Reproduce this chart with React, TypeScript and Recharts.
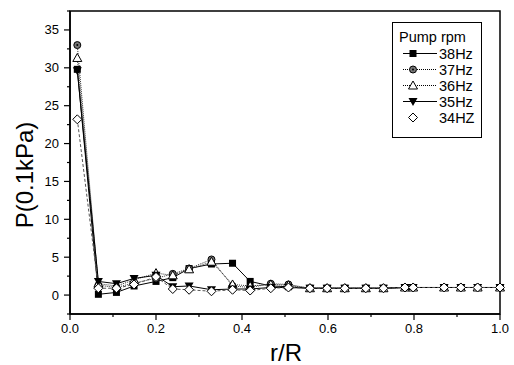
import { LineChart, Line, XAxis, YAxis, ReferenceArea, Label } from 'recharts';

const rR = [0.017, 0.066, 0.108, 0.149, 0.2, 0.239, 0.277, 0.329, 0.378, 0.419, 0.467, 0.508, 0.558, 0.598, 0.639, 0.688, 0.729, 0.779, 0.798, 0.87, 0.909, 0.948, 1.0];
const hz38 = [29.8, 0.1, 0.35, 1.2, 1.8, 2.3, 3.5, 4.1, 4.2, 1.8, 1.2, 1.1, 0.9, 0.9, 0.9, 0.9, 0.9, 1.0, 1.0, 1.0, 1.0, 1.0, 1.0];
const hz37 = [33.0, 1.3, 1.0, 1.6, 2.2, 2.8, 3.5, 4.7, 1.2, 1.0, 1.5, 1.4, 0.9, 0.9, 0.9, 0.9, 0.9, 1.0, 1.0, 1.0, 1.0, 1.0, 1.0];
const hz36 = [31.3, 1.5, 1.2, 2.0, 2.9, 2.6, 3.4, 4.4, 1.4, 1.2, 1.4, 1.3, 0.9, 0.9, 0.9, 0.9, 0.9, 1.0, 1.0, 1.0, 1.0, 1.0, 1.0];
const hz35 = [29.6, 1.8, 1.5, 2.2, 2.6, 1.1, 1.2, 0.7, 0.8, 0.8, 1.0, 1.0, 0.9, 0.9, 0.9, 0.9, 0.9, 1.0, 1.0, 1.0, 1.0, 1.0, 1.0];
const hz34 = [23.2, 0.9, 0.9, 1.4, 2.4, 0.8, 0.7, 0.5, 0.7, 0.6, 0.9, 1.0, 0.9, 0.9, 0.9, 0.9, 0.9, 1.0, 1.0, 1.0, 1.0, 1.0, 1.0];

const xTicks = [0, 0.1, 0.2, 0.3, 0.4, 0.5, 0.6, 0.7, 0.8, 0.9, 1.0];
const yTicks = [-2.5, 0, 2.5, 5, 7.5, 10, 12.5, 15, 17.5, 20, 22.5, 25, 27.5, 30, 32.5, 35, 37.5];

const data = rR.map((x, i) => ({ x, a: hz38[i], b: hz37[i], c: hz36[i], d: hz35[i], e: hz34[i] }));

const FONT = 'Liberation Sans, Arial, sans-serif';

type Shape = 'square' | 'circle' | 'triangle' | 'down' | 'diamond';

function Marker({ cx, cy, shape }: { cx: number; cy: number; shape: Shape }) {
  if (shape === 'square') return <rect x={cx - 3.5} y={cy - 3.5} width={7} height={7} fill="#000" />;
  if (shape === 'circle')
    return (
      <g>
        <circle cx={cx} cy={cy} r={3.5} fill="#777" stroke="#000" strokeWidth={1} />
        <circle cx={cx} cy={cy} r={1} fill="#000" />
      </g>
    );
  if (shape === 'triangle')
    return <polygon points={`${cx},${cy - 4.5} ${cx - 4.5},${cy + 3.5} ${cx + 4.5},${cy + 3.5}`} fill="#fff" stroke="#000" strokeWidth={1} />;
  if (shape === 'down')
    return <polygon points={`${cx - 4.5},${cy - 3.5} ${cx + 4.5},${cy - 3.5} ${cx},${cy + 4.5}`} fill="#000" />;
  return <polygon points={`${cx},${cy - 4.5} ${cx + 4.5},${cy} ${cx},${cy + 4.5} ${cx - 4.5},${cy}`} fill="#fff" stroke="#000" strokeWidth={1} />;
}

const dotFor = (shape: Shape) => (p: any) => <Marker key={`${shape}-${p.index}`} cx={p.cx} cy={p.cy} shape={shape} />;

function YTick({ x, y, payload }: any) {
  const v = payload.value;
  const major = v % 5 === 0 && v >= 0 && v <= 35;
  return (
    <g>
      <line x1={x + (major ? 2 : 5)} x2={x + 8} y1={y} y2={y} stroke="#000" strokeWidth={1.2} />
      {major && (
        <text x={x - 3} y={y + 4.5} textAnchor="end" fontSize={13} fontFamily={FONT} fill="#000">
          {v}
        </text>
      )}
    </g>
  );
}

function XTick({ x, y, payload }: any) {
  const v = payload.value;
  const major = Math.round(v * 10) % 2 === 0;
  return (
    <g>
      <line x1={x} x2={x} y1={y - 8} y2={y - (major ? 2 : 5)} stroke="#000" strokeWidth={1.2} />
      {major && (
        <text x={x} y={y + 11} textAnchor="middle" fontSize={13} fontFamily={FONT} fill="#000">
          {v.toFixed(1)}
        </text>
      )}
    </g>
  );
}

const legendRows: { name: string; shape: Shape; dash?: string; line: boolean }[] = [
  { name: '38Hz', shape: 'square', line: true },
  { name: '37Hz', shape: 'circle', dash: '1 1', line: true },
  { name: '36Hz', shape: 'triangle', dash: '1 1', line: true },
  { name: '35Hz', shape: 'down', line: true },
  { name: '34HZ', shape: 'diamond', line: false },
];

function LegendBox() {
  return (
    <svg width={90} height={116} style={{ position: 'absolute', left: 392, top: 22, display: 'block' }}>
      <rect x={0.5} y={0.5} width={89} height={115} fill="#fff" stroke="#000" strokeWidth={1} />
      <text x={7} y={20} fontSize={14.5} fontFamily={FONT} fill="#000">Pump rpm</text>
      {legendRows.map((r, i) => {
        const cy = 31.5 + i * 16;
        return (
          <g key={r.name}>
            {r.line && <line x1={11} x2={45} y1={cy} y2={cy} stroke="#000" strokeWidth={1} strokeDasharray={r.dash} />}
            <Marker cx={21} cy={cy} shape={r.shape} />
            <text x={47} y={cy + 5} fontSize={14.5} fontFamily={FONT} fill="#000">{r.name}</text>
          </g>
        );
      })}
    </svg>
  );
}

export default function App() {
  return (
    <div style={{ position: 'absolute', left: 0, top: 0, width: 514, height: 365, background: '#fff' }}>
      <LineChart width={514} height={365} data={data} margin={{ top: 11, right: 14, left: 0, bottom: 0 }}>
        <XAxis
          type="number"
          dataKey="x"
          domain={[0, 1]}
          ticks={xTicks}
          interval={0}
          tick={<XTick />}
          tickLine={false}
          axisLine={{ stroke: '#000', strokeWidth: 1.5 }}
          height={51}
        >
          <Label
            content={() => (
              <text x={286} y={361} textAnchor="middle" fontSize={24} fontFamily={FONT} fill="#000">
                r/R
              </text>
            )}
          />
        </XAxis>
        <YAxis
          type="number"
          domain={[-2.5, 37.5]}
          ticks={yTicks}
          interval={0}
          tick={<YTick />}
          tickLine={false}
          axisLine={{ stroke: '#000', strokeWidth: 1.5 }}
          width={70}
          allowDataOverflow
        >
          <Label
            content={() => (
              <text x={33} y={175} transform="rotate(-90 33 175)" textAnchor="middle" fontSize={24} fontFamily={FONT} fill="#000">
                P(0.1kPa)
              </text>
            )}
          />
        </YAxis>
        <ReferenceArea x1={0} x2={1} y1={-2.5} y2={37.5} fill="none" stroke="#000" strokeWidth={1.5} ifOverflow="visible" />
        <Line dataKey="a" stroke="#000" strokeWidth={1} dot={dotFor('square')} isAnimationActive={false} />
        <Line dataKey="b" stroke="#333" strokeWidth={1} strokeDasharray="1 1" dot={dotFor('circle')} isAnimationActive={false} />
        <Line dataKey="c" stroke="#333" strokeWidth={1} strokeDasharray="1 1" dot={dotFor('triangle')} isAnimationActive={false} />
        <Line dataKey="d" stroke="#000" strokeWidth={1} dot={dotFor('down')} isAnimationActive={false} />
        <Line dataKey="e" stroke="#555" strokeWidth={1} strokeDasharray="3 2" dot={dotFor('diamond')} isAnimationActive={false} />
      </LineChart>
      <LegendBox />
    </div>
  );
}
